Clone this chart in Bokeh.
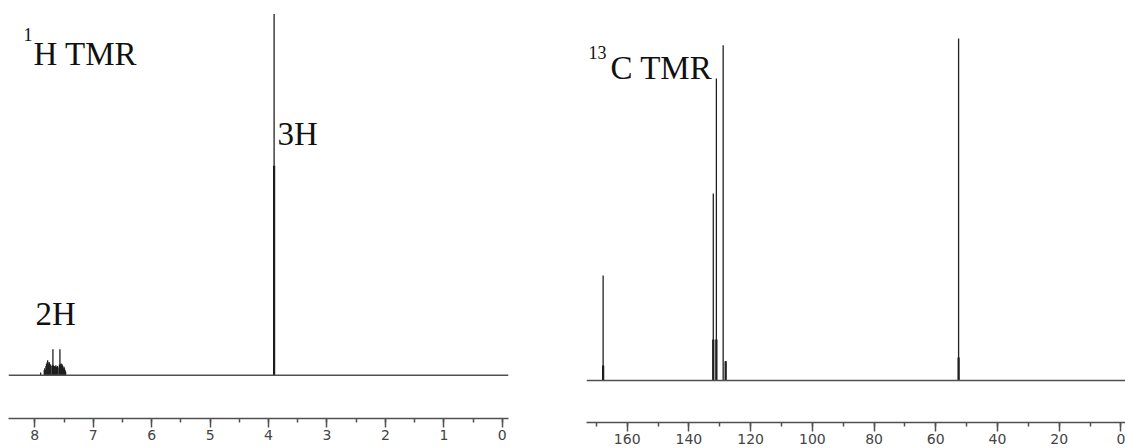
from bokeh.plotting import figure
from bokeh.layouts import row
from bokeh.models import Range1d, Span, Label, SingleIntervalTicker, ColumnDataSource
from bokeh.embed import file_html
from bokeh.resources import INLINE

# ---------------- data ----------------
# 1H spectrum: peak positions (ppm), stick heights, and broad "foot" heights (relative, 3H = 100)
H_ppm    = [3.905, 7.90, 7.83, 7.80, 7.78, 7.75, 7.73, 7.69, 7.66, 7.64, 7.61, 7.57, 7.55, 7.53, 7.50, 7.48]
H_height = [100.0, 0.8, 2.0, 3.2, 4.2, 3.6, 3.0, 7.2, 2.6, 2.8, 2.6, 7.2, 3.3, 3.0, 2.4, 1.4]
H_foot   = [58.0, 0.0, 1.5, 2.6, 3.6, 3.0, 2.6, 2.8, 2.2, 2.4, 2.2, 3.0, 3.0, 2.6, 2.0, 1.0]

# 13C spectrum: peak positions (ppm), stick heights, foot heights (relative, 52.6 ppm = 100)
C_ppm    = [167.8, 132.1, 131.1, 128.9, 128.1, 52.6]
C_height = [30.7, 54.7, 88.3, 98.0, 5.6, 100.0]
C_foot   = [4.4, 12.0, 12.0, 0.0, 5.6, 6.7]

H_ticks_interval = 1
C_ticks_interval = 20

H_labels = [("2H", 7.988, 17.0), ("3H", 3.847, 66.9)]

LINE = "#222222"
AXC = "#505050"


def style(p, interval):
    p.xgrid.visible = False
    p.ygrid.visible = False
    p.outline_line_color = None
    p.background_fill_color = "white"
    p.border_fill_color = "white"
    ax = p.xaxis[0]
    ax.ticker = SingleIntervalTicker(interval=interval, num_minor_ticks=2)
    ax.axis_line_color = AXC
    ax.axis_line_width = 1.5
    ax.major_tick_line_color = AXC
    ax.major_tick_line_width = 1.5
    ax.minor_tick_line_color = AXC
    ax.minor_tick_line_width = 1.5
    ax.major_tick_in = 0
    ax.major_tick_out = 9
    ax.minor_tick_in = 0
    ax.minor_tick_out = 4
    ax.major_label_standoff = 2
    ax.major_label_text_font = "DejaVu Sans"
    ax.major_label_text_font_size = "14px"
    ax.major_label_text_color = "#444444"
    p.add_layout(Span(location=0, dimension="width", line_color=AXC, line_width=1.5))


def peaks(p, ppm, h, foot):
    src = ColumnDataSource(dict(x=ppm, y0=[0.0] * len(ppm), h=h, f=foot))
    p.segment(x0="x", y0="y0", x1="x", y1="f", source=src, line_color="#111111", line_width=2.2)
    p.segment(x0="x", y0="y0", x1="x", y1="h", source=src, line_color=LINE, line_width=1.3)


def serif_label(p, text, x, y, size):
    p.add_layout(Label(x=x, y=y, text=text, text_font="Liberation Serif",
                       text_font_size=size, text_color="#111111",
                       text_baseline="alphabetic", text_align="left"))


# ---------------- 1H panel ----------------
p1 = figure(frame_width=500, frame_height=410,
            x_range=Range1d(8.45, -0.106), y_range=Range1d(-11.94, 101.52),
            output_backend="svg", toolbar_location=None, y_axis_location=None,
            min_border_left=8, min_border_right=52, min_border_top=8, min_border_bottom=26)
style(p1, H_ticks_interval)
peaks(p1, H_ppm, H_height, H_foot)
serif_label(p1, "1", 8.193, 94.3, "18px")
serif_label(p1, "H TMR", 8.022, 88.97, "33px")
for t, x, y in H_labels:
    serif_label(p1, t, x, y, "33px")

# ---------------- 13C panel ----------------
p2 = figure(frame_width=539, frame_height=414,
            x_range=Range1d(173.19, -1.49), y_range=Range1d(-12.28, 108.77),
            output_backend="svg", toolbar_location=None, y_axis_location=None,
            min_border_left=26, min_border_right=0, min_border_top=8, min_border_bottom=26)
style(p2, C_ticks_interval)
peaks(p2, C_ppm, C_height, C_foot)
serif_label(p2, "13", 172.54, 95.9, "18px")
serif_label(p2, "C TMR", 165.41, 91.5, "33px")

layout = row(p1, p2)
open("out.html", "w").write(file_html(layout, INLINE))
